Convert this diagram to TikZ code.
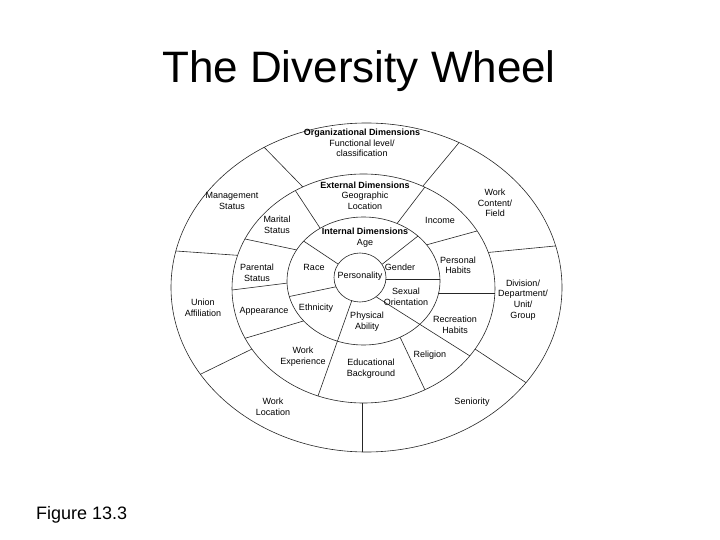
\documentclass[tikz,border=0pt]{standalone}
\usepackage{fontspec}
\setmainfont{Liberation Sans}
\usetikzlibrary{calc}
\newcommand\wdiv[2]{\draw[wline] ($#1!-0.4!#2$) -- ($#2!-0.4!#1$);}
\begin{document}
\begin{tikzpicture}[x=1pt,y=-1pt,
  wline/.style={line width=0.6pt,draw=black!85},
  ring/.style={line width=0.6pt,draw=black!85},
  lbl/.style={font=\fontsize{9}{10.7}\selectfont,align=center,inner sep=0pt}]
\useasboundingbox (0,0) rectangle (720,540);
\coordinate (cO) at (366.5,287.5);
\coordinate (cM) at (363.5,288.5);
\coordinate (cI) at (363.5,281);
\coordinate (cP) at (360,277.5);
% outer ring dividers
\begin{scope}
\clip (cO) ellipse [x radius=195.5pt, y radius=164.5pt];
\wdiv{(298,182)}{(260,143)}
\wdiv{(428,180)}{(462,139)}
\wdiv{(233,255)}{(176,251)}
\wdiv{(252,349)}{(203,373)}
\wdiv{(362,403)}{(362,452)}
\wdiv{(475,349)}{(525,382)}
\wdiv{(493,252)}{(555,246)}
\end{scope}
\draw[ring] (cO) ellipse [x radius=195.5pt, y radius=164.5pt];
\filldraw[ring,fill=white] (cM) ellipse [x radius=131.5pt, y radius=114.5pt];
% middle ring dividers
\begin{scope}
\clip (cM) ellipse [x radius=131.5pt, y radius=114.5pt];
\wdiv{(320,228)}{(293,187)}
\wdiv{(399,221)}{(428,183)}
\wdiv{(297,250)}{(245,239)}
\wdiv{(426,245)}{(477,231)}
\wdiv{(288,283)}{(232,290)}
\wdiv{(439,293)}{(494,293)}
\wdiv{(300,322)}{(246,338)}
\wdiv{(352,300)}{(318,396)}
\wdiv{(400,337)}{(425,390)}
\wdiv{(378,298)}{(470,356)}
\end{scope}
\filldraw[ring,fill=white] (cI) ellipse [x radius=76.5pt, y radius=64pt];
% inner ring dividers
\begin{scope}
\clip (cI) ellipse [x radius=76.5pt, y radius=64pt];
\wdiv{(335,262)}{(305,242)}
\wdiv{(385,262)}{(418,236)}
\wdiv{(386,279)}{(440,279)}
\wdiv{(378,298)}{(470,356)}
\wdiv{(352,300)}{(318,396)}
\wdiv{(335,287)}{(287,297)}
\end{scope}
\filldraw[ring,fill=white] (cP) ellipse [x radius=26pt, y radius=24.5pt];
% labels
\node[font=\fontsize{44}{50}\selectfont,anchor=base] (title) at (359,83) {The Diversity Wheel};
\node[font=\fontsize{18}{21}\selectfont,anchor=base west,inner sep=0pt] (fig) at (36,519) {Figure 13.3};
\node[lbl] (org) at (362,143) {\textbf{Organizational Dimensions}\\Functional level/\\classification};
\node[lbl] (mgmt) at (232,201) {Management\\Status};
\node[lbl] (ext) at (365,195.5) {\textbf{External Dimensions}\\Geographic\\Location};
\node[lbl] (marital) at (277,224.5) {Marital\\Status};
\node[lbl] (income) at (440,220) {Income};
\node[lbl] (workc) at (495,203) {Work\\Content/\\Field};
\node[lbl] (int) at (365,238) {\textbf{Internal Dimensions}\\Age};
\node[lbl] (parental) at (257,273) {Parental\\Status};
\node[lbl] (race) at (314,267.3) {Race};
\node[lbl] (pers) at (360,275.7) {Personality};
\node[lbl] (gender) at (400,267.3) {Gender};
\node[lbl] (habits) at (458,265.3) {Personal\\Habits};
\node[lbl] (sexual) at (406,296.7) {Sexual\\Orientation};
\node[lbl] (div) at (523,300) {Division/\\Department/\\Unit/\\Group};
\node[lbl] (union) at (203,308) {Union\\Affiliation};
\node[lbl] (appear) at (264,311.7) {Appearance};
\node[lbl] (eth) at (316,307.7) {Ethnicity};
\node[lbl] (phys) at (367,321.7) {Physical\\Ability};
\node[lbl] (recr) at (455,324.7) {Recreation\\Habits};
\node[lbl] (workexp) at (303,357) {Work\\Experience};
\node[lbl] (edu) at (371,368.7) {Educational\\Background};
\node[lbl] (relig) at (430,355) {Religion};
\node[lbl] (workloc) at (273,407) {Work\\Location};
\node[lbl] (senior) at (472,401.7) {Seniority};
\end{tikzpicture}
\end{document}
